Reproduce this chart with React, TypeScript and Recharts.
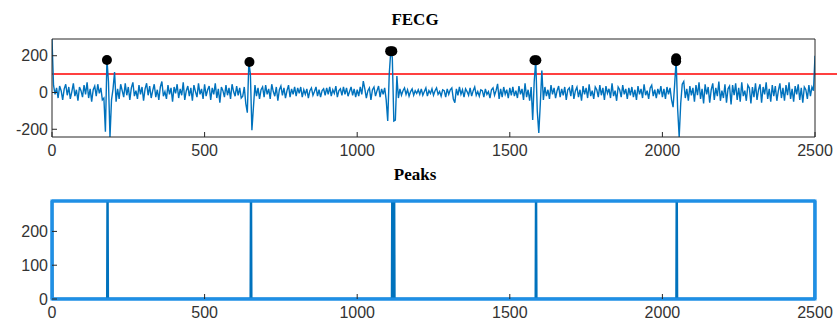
import React from 'react';
import {
  ComposedChart,
  Line,
  Scatter,
  XAxis,
  YAxis,
  ReferenceLine,
  ReferenceArea
} from 'recharts';

// FECG samples, one value every 5 samples (x = 0, 5, ..., 2500)
const sampleStep = 5;
const fecg: number[] = [
  291, 40, -10, 25, -30, 35, 10, -40, 20, 45, -15, 30, -35, 5, 50, -20, 15, -45, 30, 10,
  -25, 40, -10, 55, -30, 20, -50, 15, 35, -20, 45, -5, 25, -40, -30, -213, 180, 60, -242, -40,
  20, 111, -50, 20, -35, 45, 10, -25, 50, -15, 30, -40, 25, 55, -20, 10, -35, 40, -10, 30,
  -45, 20, 50, -15, 35, -30, 10, 45, -25, 15, -40, 30, 60, -20, 5, -35, 40, -10, 25, -50,
  30, -5, 45, -30, 20, -15, 55, -40, 10, 35, -20, 25, -45, 40, 5, -25, 50, -10, 20, -35,
  45, -20, 15, 35, -40, 25, -10, 50, -30, 20, -55, 30, 10, -25, 40, -15, 25, -35, 45, 5,
  -20, 35, -15, 25, -30, -20, 30, -60, -110, 166, 100, -205, -80, 40, -20, 25, -35, 15, 30, -25,
  40, -10, 20, -35, 45, 5, -20, 30, -45, 15, 35, -15, 25, -30, 10, 40, -25, 20, -10, 30,
  -20, 25, -5, 30, -25, 15, -10, 20, -30, 10, 25, -15, 5, 30, -20, 15, -25, 10, 20, -15,
  25, -10, 30, -20, 15, -5, 35, -25, 10, 20, -15, 30, -10, 25, -20, 5, 30, -15, 20, -25,
  15, -20, 30, -10, 62, 20, -30, 10, 25, -40, 15, 30, -20, 10, 35, -25, 20, -10, 25, -40,
  -155, 100, 225, 190, -155, -150, 90, -30, 20, -15, 10, 25, -10, 15, -20, 5, 20, -15, 10, -5,
  15, -10, 20, -15, 5, 25, -20, 10, -5, 20, -15, 10, 25, -10, 5, -20, 15, 10, -25, 20,
  -10, 15, 25, -35, -55, 20, -15, 30, -10, 15, -25, 20, 5, -15, 25, -20, 10, 30, -15, 5,
  -20, 15, 10, -25, 20, -10, 5, -30, 15, 25, -15, 10, 47, -35, 20, -25, 30, -10, 15, -30,
  25, -15, 30, -20, 10, -30, 35, -10, 20, -40, 50, -25, 15, -45, 30, -150, 60, 175, -100, -220,
  -60, 120, -40, 30, -20, 15, -35, 40, -10, 25, -30, 10, 35, -25, 20, -15, 30, -40, 15, 25,
  -20, 40, -35, 10, 30, -25, 15, -45, 35, -10, 25, -30, 45, -20, 10, -35, 30, 15, -25, 40,
  -15, 25, -40, 35, -5, 20, -30, 50, -20, 10, -45, 30, 15, -25, 40, -10, 20, -35, 25, -15,
  30, -25, 15, -40, 35, -10, 20, -30, 45, -15, 10, -35, 25, 40, -20, 15, -30, 20, -10, 35,
  -25, 20, -35, 30, -10, 25, -40, -80, 40, 177, -90, -242, -60, 45, 60, -30, 20, -45, 35, -15,
  25, -50, 40, -15, 55, -35, 20, -60, 45, -10, 30, -55, 15, 50, -40, 25, -20, 60, -45, 10,
  -30, 45, -55, 20, 35, -65, 40, -15, 50, -40, 25, -50, 55, -20, 10, -45, 40, 25, -60, 30,
  -25, 50, -40, 15, 45, -55, 30, -10, 55, -35, 20, -50, 40, -20, 35, -45, 10, 50, -30, 25,
  -45, 40, -15, 55, -35, 20, -50, 35, -10, 45, -40, 25, -55, 30, 15, -35, 40, -20, 30, 10,
  200
];

// detected peak markers
const markerX = [180, 647, 1108, 1115, 1581, 1587, 2045, 2045];
const markerY = [177, 166, 225, 225, 175, 175, 170, 186];

const threshold = 100;

// peak indices shown in the lower panel
const peakX = [182, 652, 1115, 1121, 1586, 2047];
const peakHeight = 290;

const xTicks = [0, 500, 1000, 1500, 2000, 2500];
const fecgTicks = [-200, 0, 200];
const peakTicks = [0, 100, 200];

const fecgData = fecg.map((v, i) => ({ x: i * sampleStep, y: v }));
const markerData = markerX.map((x, i) => ({ x, y: markerY[i] }));

const peakData: { x: number; y: number }[] = [{ x: 0, y: peakHeight }, { x: 1, y: 0 }];
peakX.forEach((p) => {
  peakData.push({ x: p - 1, y: 0 }, { x: p, y: peakHeight }, { x: p + 1, y: 0 });
});
peakData.push({ x: 2499, y: 0 }, { x: 2500, y: peakHeight });

const axisColor = '#262626';
const boxBlue = '#1f8fe5';
const tickStyle = { fill: '#333', fontSize: 16, fontFamily: '"Liberation Sans", Arial, sans-serif' };
const blueAxis = { stroke: boxBlue, strokeWidth: 3 };
const darkTick = { stroke: axisColor };
const titleStyle: React.CSSProperties = {
  position: 'absolute',
  left: 415,
  transform: 'translate(-50%, -50%)',
  fontFamily: '"Liberation Serif", "Times New Roman", serif',
  fontWeight: 'bold',
  fontSize: 17,
  color: '#000',
  whiteSpace: 'nowrap'
};

const App = () => {
  return (
    <div style={{ position: 'absolute', left: 0, top: 0, width: 837, height: 327, background: '#fff' }}>
      <div style={{ ...titleStyle, top: 20 }}>FECG</div>
      <div style={{ ...titleStyle, top: 175 }}>Peaks</div>

      <div style={{ position: 'absolute', left: 0, top: 0 }}>
        <ComposedChart width={837} height={165} margin={{ top: 38, right: 21, left: 0, bottom: 0 }}>
          <XAxis
            dataKey="x"
            type="number"
            domain={[0, 2500]}
            ticks={xTicks}
            allowDataOverflow
            height={28}
            tickSize={-5}
            tickMargin={13}
            tick={tickStyle}
            stroke={axisColor}
          />
          <XAxis
            xAxisId="top"
            orientation="top"
            type="number"
            domain={[0, 2500]}
            ticks={xTicks}
            height={1}
            tickSize={-5}
            tick={false}
            stroke={axisColor}
          />
          <YAxis
            type="number"
            domain={[-242, 291]}
            ticks={fecgTicks}
            allowDataOverflow
            width={52}
            tickSize={-5}
            tickMargin={9}
            tick={tickStyle}
            stroke={axisColor}
          />
          <YAxis
            yAxisId="right"
            orientation="right"
            type="number"
            domain={[-242, 291]}
            ticks={fecgTicks}
            width={1}
            tickSize={-5}
            tick={false}
            stroke={axisColor}
          />
          <ReferenceLine
            segment={[{ x: 0, y: threshold }, { x: 2575, y: threshold }]}
            stroke="#ff0000"
            strokeWidth={1.5}
            ifOverflow="visible"
          />
          <Line
            data={fecgData}
            dataKey="y"
            type="linear"
            stroke="#0072BD"
            strokeWidth={1.4}
            dot={false}
            isAnimationActive={false}
          />
          <Scatter
            data={markerData}
            dataKey="y"
            fill="#000"
            isAnimationActive={false}
            shape={(p: any) => <circle cx={p.cx} cy={p.cy} r={5} fill="#000" />}
          />
        </ComposedChart>
      </div>

      <div style={{ position: 'absolute', left: 0, top: 165 }}>
        <ComposedChart width={837} height={162} margin={{ top: 35, right: 21, left: 0, bottom: 0 }}>
          <XAxis
            dataKey="x"
            type="number"
            domain={[0, 2500]}
            ticks={xTicks}
            allowDataOverflow
            height={28}
            tickSize={-5}
            tickMargin={13}
            tick={tickStyle}
            axisLine={blueAxis}
            tickLine={darkTick}
          />
          <XAxis
            xAxisId="top"
            orientation="top"
            type="number"
            domain={[0, 2500]}
            ticks={xTicks}
            height={1}
            tickSize={-5}
            tick={false}
            axisLine={blueAxis}
            tickLine={darkTick}
          />
          <YAxis
            type="number"
            domain={[0, peakHeight]}
            ticks={peakTicks}
            allowDataOverflow
            width={52}
            tickSize={-5}
            tickMargin={9}
            tick={tickStyle}
            axisLine={blueAxis}
            tickLine={darkTick}
          />
          <YAxis
            yAxisId="right"
            orientation="right"
            type="number"
            domain={[0, peakHeight]}
            ticks={peakTicks}
            width={1}
            tickSize={-5}
            tick={false}
            axisLine={blueAxis}
            tickLine={darkTick}
          />
          <ReferenceArea
            x1={0}
            x2={2500}
            y1={0}
            y2={peakHeight}
            fill="none"
            stroke={boxBlue}
            strokeWidth={3}
            ifOverflow="visible"
          />
          <Line
            data={peakData}
            dataKey="y"
            type="linear"
            stroke="#0072BD"
            strokeWidth={2.5}
            dot={false}
            isAnimationActive={false}
          />
        </ComposedChart>
      </div>
    </div>
  );
};

export default App;
